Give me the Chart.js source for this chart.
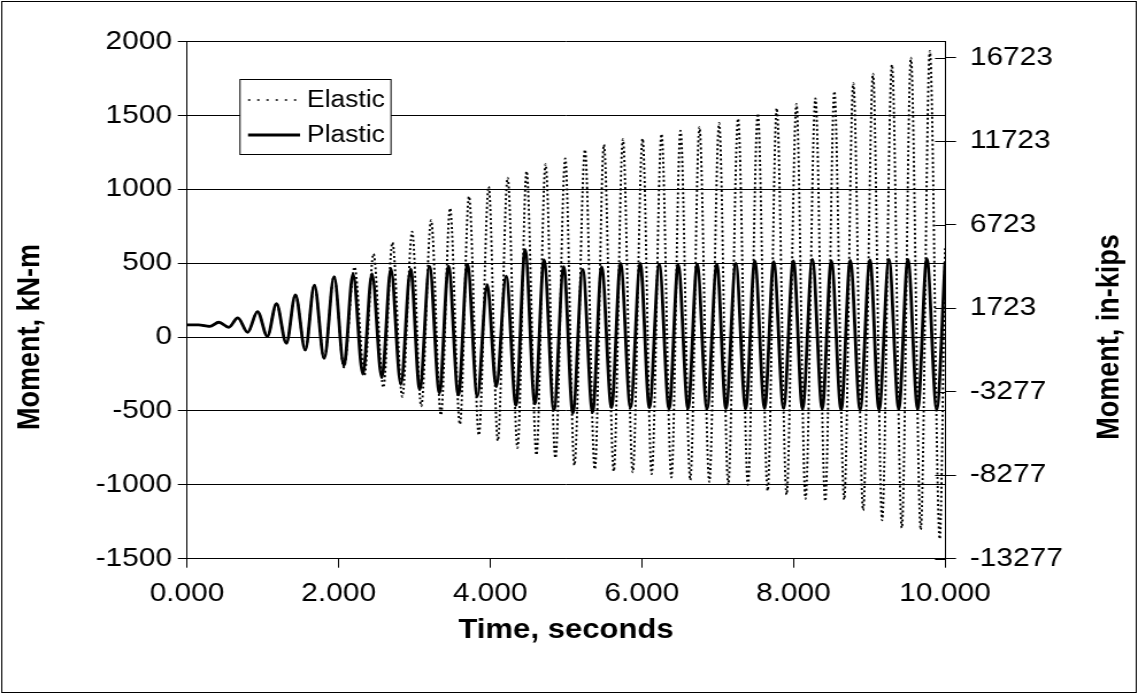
<!DOCTYPE html>
<html>
<head>
<meta charset="utf-8">
<title>Moment vs time</title>
<script src="https://cdn.jsdelivr.net/npm/chart.js@4.4.1/dist/chart.umd.min.js"></script>
<style>
  html, body { margin: 0; padding: 0; background: #fff; }
  #chart { display: block; }
</style>
</head>
<body>
<canvas id="chart" width="990" height="694" style="width:1138px;height:694px"></canvas>
<script>
// turning points (peaks / troughs) of each response, time in s, moment in kN-m
const plasticTime = [0, 0.15, 0.30,
  0.42, 0.55, 0.67, 0.80, 0.93, 1.06, 1.18, 1.31, 1.43, 1.56, 1.68, 1.81, 1.94, 2.07,
  2.19, 2.32, 2.44, 2.57, 2.69, 2.82, 2.95, 3.07, 3.20, 3.33, 3.45, 3.58, 3.70, 3.83,
  3.96, 4.08, 4.21, 4.34, 4.46, 4.59, 4.71, 4.84, 4.97, 5.09, 5.22, 5.35, 5.47, 5.60,
  5.72, 5.85, 5.98, 6.10, 6.23, 6.36, 6.48, 6.61, 6.73, 6.86, 6.99, 7.11, 7.24, 7.37,
  7.49, 7.62, 7.74, 7.87, 8.00, 8.12, 8.25, 8.38, 8.50, 8.63, 8.75, 8.88, 9.01, 9.13,
  9.26, 9.39, 9.51, 9.64, 9.76, 9.89, 10.0];
const plasticMoment = [82, 82, 72,
  100, 66, 130, 32, 172, 5, 226, -42, 286, -88, 352, -145, 409, -195,
  428, -250, 428, -275, 462, -320, 460, -355, 478, -378, 480, -392, 492, -402,
  355, -335, 412, -462, 592, -452, 522, -495, 476, -515, 458, -508, 475, -478,
  498, -475, 498, -478, 492, -485, 488, -485, 493, -485, 492, -485, 498, -485,
  515, -482, 510, -482, 515, -485, 525, -485, 516, -492, 518, -492, 522, -492,
  526, -488, 526, -488, 530, -490, 505];

const elasticTime = [0, 0.15, 0.30,
  0.42, 0.55, 0.67, 0.80, 0.93, 1.06, 1.18, 1.31, 1.43, 1.56, 1.68, 1.81, 1.94, 2.07,
  2.21, 2.34, 2.46, 2.59, 2.71, 2.84, 2.97, 3.09, 3.22, 3.35, 3.47, 3.60, 3.72, 3.85,
  3.98, 4.10, 4.23, 4.36, 4.48, 4.61, 4.73, 4.86, 4.99, 5.11, 5.25, 5.38, 5.50, 5.63,
  5.75, 5.88, 6.01, 6.13, 6.26, 6.39, 6.51, 6.64, 6.76, 6.89, 7.02, 7.14, 7.27, 7.40,
  7.53, 7.66, 7.78, 7.91, 8.04, 8.16, 8.29, 8.42, 8.54, 8.67, 8.79, 8.92, 9.05, 9.17,
  9.30, 9.43, 9.55, 9.68, 9.80, 9.93, 10.0];
const elasticMoment = [82, 82, 72,
  100, 66, 130, 32, 172, 5, 226, -42, 286, -88, 352, -145, 412, -205,
  474, -258, 563, -340, 640, -405, 713, -468, 790, -528, 872, -590, 952, -664,
  1018, -702, 1078, -750, 1122, -798, 1170, -818, 1208, -868, 1268, -895, 1302, -908,
  1338, -915, 1342, -928, 1374, -950, 1397, -968, 1421, -980, 1448, -998, 1478, -1000,
  1512, -1040, 1548, -1066, 1578, -1095, 1615, -1110, 1662, -1100, 1718, -1172, 1782, -1240,
  1842, -1292, 1891, -1303, 1936, -1366, 600];

const timeTicks = [0, 2, 4, 6, 8, 10];
const momentTicks = [-1500, -1000, -500, 0, 500, 1000, 1500, 2000];
const inKipsTicks = [-13277, -8277, -3277, 1723, 6723, 11723, 16723];
const KNM_TO_INKIPS = 8.8507;

// the picture is stretched sideways: draw at 990 wide, show at 1138
const W = 990, H = 694;
const sx = px => px * W / 1138;

const FONT = "'Liberation Sans', Arial, sans-serif";
const tickFont = { family: FONT, size: 26 };
const titleFont = { family: FONT, size: 27, weight: 'bold' };

const toPoints = (xs, ys) => xs.map((t, i) => ({ x: t, y: ys[i] }));
const fixedTicks = list => scale => { scale.ticks = list.map(v => ({ value: v })); };

const decor = {
  id: 'decor',
  beforeDraw(chart) {
    const ctx = chart.ctx;
    ctx.save();
    ctx.fillStyle = '#fff';
    ctx.fillRect(0, 0, chart.width, chart.height);
    ctx.restore();
  },
  afterDraw(chart) {
    const ctx = chart.ctx;
    const area = chart.chartArea;
    const y2 = chart.scales.y2;
    ctx.save();
    ctx.strokeStyle = '#000';
    ctx.lineWidth = 1;

    // inner half of the cross tick marks on the in-kips axis
    y2.ticks.forEach(t => {
      const py = Math.round(y2.getPixelForValue(t.value)) + 0.5;
      ctx.beginPath();
      ctx.moveTo(area.right - sx(10), py);
      ctx.lineTo(area.right, py);
      ctx.stroke();
    });

    // vertical axis titles, both read bottom to top
    ctx.fillStyle = '#000';
    ctx.font = `bold ${titleFont.size}px ${FONT}`;
    ctx.textAlign = 'center';
    ctx.textBaseline = 'middle';
    [['Moment, kN-m', sx(30)], ['Moment, in-kips', sx(1110)]].forEach(([txt, x]) => {
      ctx.save();
      ctx.translate(x, 337);
      ctx.rotate(-Math.PI / 2);
      ctx.fillText(txt, 0, 0);
      ctx.restore();
    });

    // legend box
    const bx = sx(240), by = 79.5, bw = sx(391) - sx(240), bh = 75;
    ctx.fillStyle = '#fff';
    ctx.fillRect(bx, by, bw, bh);
    ctx.strokeRect(bx, by, bw, bh);
    chart.data.datasets.forEach((ds, i) => {
      const ly = 100 + i * 35;
      ctx.save();
      ctx.lineWidth = ds.borderDash ? 1.6 : ds.borderWidth;
      ctx.setLineDash(ds.borderDash ? [2, 6] : []);
      ctx.beginPath();
      ctx.moveTo(sx(248), ly);
      ctx.lineTo(sx(300), ly);
      ctx.stroke();
      ctx.restore();
      ctx.fillStyle = '#000';
      ctx.font = `23px ${FONT}`;
      ctx.textAlign = 'left';
      ctx.fillText(ds.label, sx(307), ly + 1);
    });

    // outer frame
    ctx.strokeRect(1.5, 1.5, W - 3, H - 3);
    ctx.restore();
  }
};

new Chart(document.getElementById('chart'), {
  type: 'line',
  data: {
    datasets: [{
      label: 'Elastic',
      data: toPoints(elasticTime, elasticMoment),
      borderColor: '#000',
      borderWidth: 1.9,
      borderDash: [2, 2.5],
      pointRadius: 0,
      cubicInterpolationMode: 'monotone',
      yAxisID: 'y'
    }, {
      label: 'Plastic',
      data: toPoints(plasticTime, plasticMoment),
      borderColor: '#000',
      borderWidth: 2.8,
      pointRadius: 0,
      cubicInterpolationMode: 'monotone',
      yAxisID: 'y'
    }]
  },
  options: {
    responsive: false,
    animation: false,
    devicePixelRatio: 1,
    layout: { padding: { top: 41.5, left: 0, right: 0, bottom: 0 } },
    plugins: {
      legend: { display: false },
      tooltip: { enabled: false }
    },
    scales: {
      x: {
        type: 'linear',
        min: 0,
        max: 10,
        afterBuildTicks: fixedTicks(timeTicks),
        afterFit: s => { s.height = H - 558.7; },
        ticks: {
          callback: v => v.toFixed(3),
          font: tickFont,
          color: '#000',
          padding: 11,
          maxRotation: 0,
          autoSkip: false
        },
        grid: { drawOnChartArea: false, tickLength: 9, color: '#000' },
        border: { color: '#000', width: 1 },
        title: {
          display: true,
          text: 'Time, seconds',
          font: titleFont,
          color: '#000',
          padding: { top: 0, bottom: 47 }
        }
      },
      y: {
        position: 'left',
        min: -1500,
        max: 2000,
        afterBuildTicks: fixedTicks(momentTicks),
        afterFit: s => { s.width = sx(187); },
        ticks: { callback: v => String(v), font: tickFont, color: '#000', padding: 5 },
        grid: { color: '#000', tickLength: 8 },
        border: { color: '#000', width: 1 }
      },
      y2: {
        position: 'right',
        min: -1500 * KNM_TO_INKIPS,
        max: 2000 * KNM_TO_INKIPS,
        afterBuildTicks: fixedTicks(inKipsTicks),
        afterFit: s => { s.width = W - sx(945); },
        ticks: { callback: v => String(v), font: tickFont, color: '#000', padding: 12 },
        grid: { drawOnChartArea: false, tickLength: sx(11), color: '#000' },
        border: { color: '#000', width: 1 }
      }
    }
  },
  plugins: [decor]
});
</script>
</body>
</html>
